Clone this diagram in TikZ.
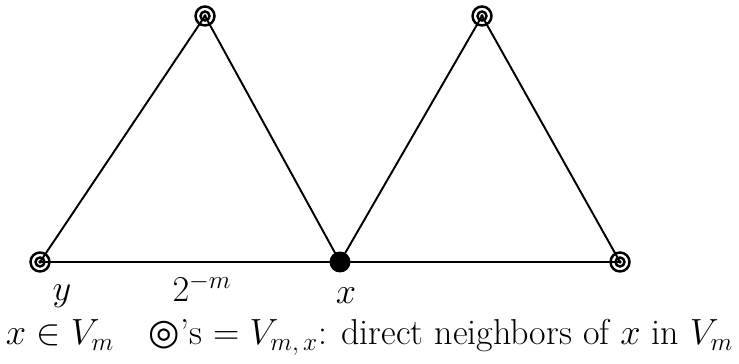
\documentclass[tikz,border=0pt]{standalone}
\usepackage{amsmath,amssymb}
\usepackage{fontspec}
\newfontfamily\symfont{DejaVu Sans}
\usepackage{tikz}

\begin{document}
\begin{tikzpicture}[x=0.02cm, y=0.02cm, line width=1.1pt,
    font=\fontsize{20.5}{24}\selectfont,
    nbr/.style={circle, draw, line width=1.4pt, minimum size=0.38cm, inner sep=0pt,
      path picture={\draw (path picture bounding box.center) circle (4.5);
        \fill (path picture bounding box.center) circle (1.8);}},
    vtx/.style={circle, fill, minimum size=0.42cm, inner sep=0pt}]
  \useasboundingbox (0,0) rectangle (739,364);
  % Nodes
  \node[nbr] (Y)  at (40,102)  {};
  \node[nbr] (T1) at (205,348) {};
  \node[vtx] (X)  at (340,102) {};
  \node[nbr] (T2) at (482,348) {};
  \node[nbr] (R)  at (620,102) {};
  % Edges of the two triangles
  \draw (Y.center) -- (T1.center) -- (X.center) -- (T2.center) -- (R.center);
  \draw (Y.center) -- (X.center) -- (R.center);
  % Labels
  \node (ly) at (62,68)  {$y$};
  \node (lm) at (202,76) {$2^{-m}$};
  \node (lx) at (346,68) {$x$};
  % Caption
  \node[anchor=base west, inner sep=0pt] (c1) at (5,19) {$x\in V_m$};
  \node[anchor=base west, inner sep=0pt] (c2) at (148,19)
    {{\symfont ◎}’s $=V_{m,\,x}$: direct neighbors of $x$ in $V_m$};
\end{tikzpicture}
\end{document}
